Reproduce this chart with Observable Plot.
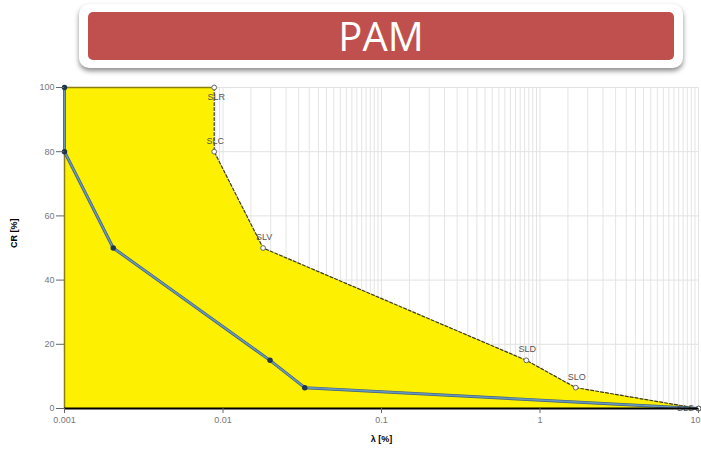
<!DOCTYPE html>
<html><head><meta charset="utf-8">
<script src="https://cdn.jsdelivr.net/npm/d3@7"></script>
<script src="https://cdn.jsdelivr.net/npm/@observablehq/plot@0.6"></script>
<style>
body{margin:0;background:#fff;width:701px;height:453px;overflow:hidden;font-family:"Liberation Sans",Arial,sans-serif}
#title{position:relative;height:72px}
#outer{position:absolute;left:79px;top:4px;width:604px;height:64px;background:#fff;border-radius:10px;box-shadow:0 3px 5px rgba(0,0,0,0.45)}
#inner{position:absolute;left:9px;top:8px;width:586px;height:48px;background:#c0504d;border-radius:5px;color:#fff;font-family:"Open Sans",sans-serif;font-size:40px;line-height:48px;text-align:center}
#chart svg{display:block}
</style></head>
<body>
<div id="title"><div id="outer"><div id="inner">PAM</div></div></div>
<div id="chart"></div>
<script>
// Limit states (yellow curve)
const limitStates = ["SLR", "SLC", "SLV", "SLD", "SLO", "SLS"];
const lambdaLS = [0.0088, 0.0088, 0.0179, 0.82, 1.68, 10];
const crLS = [100, 80, 50, 15, 6.5, 0];
// PAM curve (blue)
const lambdaPAM = [0.001, 0.001, 0.00203, 0.0198, 0.0328, 10];
const crPAM = [100, 80, 50, 15, 6.5, 0];
// Axis ticks
const xTicks = [0.001, 0.01, 0.1, 1, 10];
const xTickLabels = ["0.001", "0.01", "0.1", "1", "10"];
const yTicks = [0, 20, 40, 60, 80, 100];
const minorSteps = [1, 1.5, 2, 2.5, 3, 3.5, 4, 4.5, 5, 5.5, 6, 6.5, 7, 7.5, 8, 8.5, 9, 9.5];

const ls = limitStates.map((name, i) => ({name, x: lambdaLS[i], y: crLS[i]}));
const pam = lambdaPAM.map((x, i) => ({x, y: crPAM[i]}));
const areaPts = [{x: lambdaPAM[0], y: crLS[0]}, ...ls];
const minorGrid = xTicks.slice(0, -1).flatMap(d => minorSteps.map(k => d * k)).concat([xTicks[xTicks.length - 1]]);
const lastTick = xTicks.length - 1;

const chart = Plot.plot({
  width: 701, height: 381,
  marginLeft: 64, marginRight: 3, marginTop: 15, marginBottom: 45,
  x: {type: "log", domain: [0.001, 10]},
  y: {domain: [0, 100]},
  style: {fontFamily: "'Liberation Sans', Arial, sans-serif", fontSize: "9px", color: "#777", background: "transparent", overflow: "visible"},
  marks: [
    Plot.ruleX(minorGrid, {stroke: "#e4e4e4", strokeWidth: 1}),
    Plot.ruleY(yTicks.slice(1), {stroke: "#e2e2e2", strokeWidth: 1}),
    Plot.areaY(areaPts, {x: "x", y: "y", y1: 0, fill: "#fdf000"}),
    Plot.line([{x: lambdaPAM[0], y: 0}, {x: lambdaPAM[0], y: crLS[0]}, {x: lambdaLS[0], y: crLS[0]}], {x: "x", y: "y", stroke: "#8c7d10", strokeWidth: 1.5}),
    Plot.line(ls, {x: "x", y: "y", stroke: "#3b3a28", strokeWidth: 1.2, strokeDasharray: "3,2"}),
    Plot.line(pam, {x: "x", y: "y", stroke: "#3d5f7e", strokeWidth: 3}),
    Plot.line(pam, {x: "x", y: "y", stroke: "#6a98bb", strokeWidth: 1.6}),
    Plot.dot(pam, {x: "x", y: "y", r: 2, fill: "#1f3550", stroke: "#1f3550"}),
    Plot.dot(ls, {x: "x", y: "y", r: 2.4, fill: "#fff", stroke: "#666", strokeWidth: 1}),
    Plot.text(ls.slice(0, 1), {x: "x", y: "y", text: "name", dx: 2, dy: 10, fill: "#555", fontSize: 9}),
    Plot.text(ls.slice(1, 5), {x: "x", y: "y", text: "name", dx: 1, dy: -11, fill: "#555", fontSize: 9}),
    Plot.text(ls.slice(5), {x: "x", y: "y", text: "name", dx: -13, dy: 0, fill: "#555", fontSize: 9}),
    Plot.ruleY([0], {stroke: "#000", strokeWidth: 2}),
    Plot.axisX({ticks: xTicks, tickFormat: d => (xTicks.indexOf(d) === lastTick ? "" : xTickLabels[xTicks.indexOf(d)]), tickSize: 5, tickPadding: 3, label: null, stroke: "#666"}),
    Plot.text([xTicks[lastTick]], {x: d => d, frameAnchor: "bottom", dy: 14, text: () => xTickLabels[lastTick], textAnchor: "end", dx: 2, fill: "#777", fontSize: 9}),
    Plot.axisY({ticks: yTicks, tickSize: 8, tickPadding: 2, label: null, stroke: "#666"}),
    Plot.text(["λ [%]"], {frameAnchor: "bottom", dy: 33, fill: "#000", fontWeight: "bold", fontSize: 9}),
    Plot.text(["CR [%]"], {frameAnchor: "left", dx: -50, rotate: -90, fill: "#000", fontWeight: "bold", fontSize: 9})
  ]
});
document.getElementById("chart").append(chart);
</script>
</body></html>
